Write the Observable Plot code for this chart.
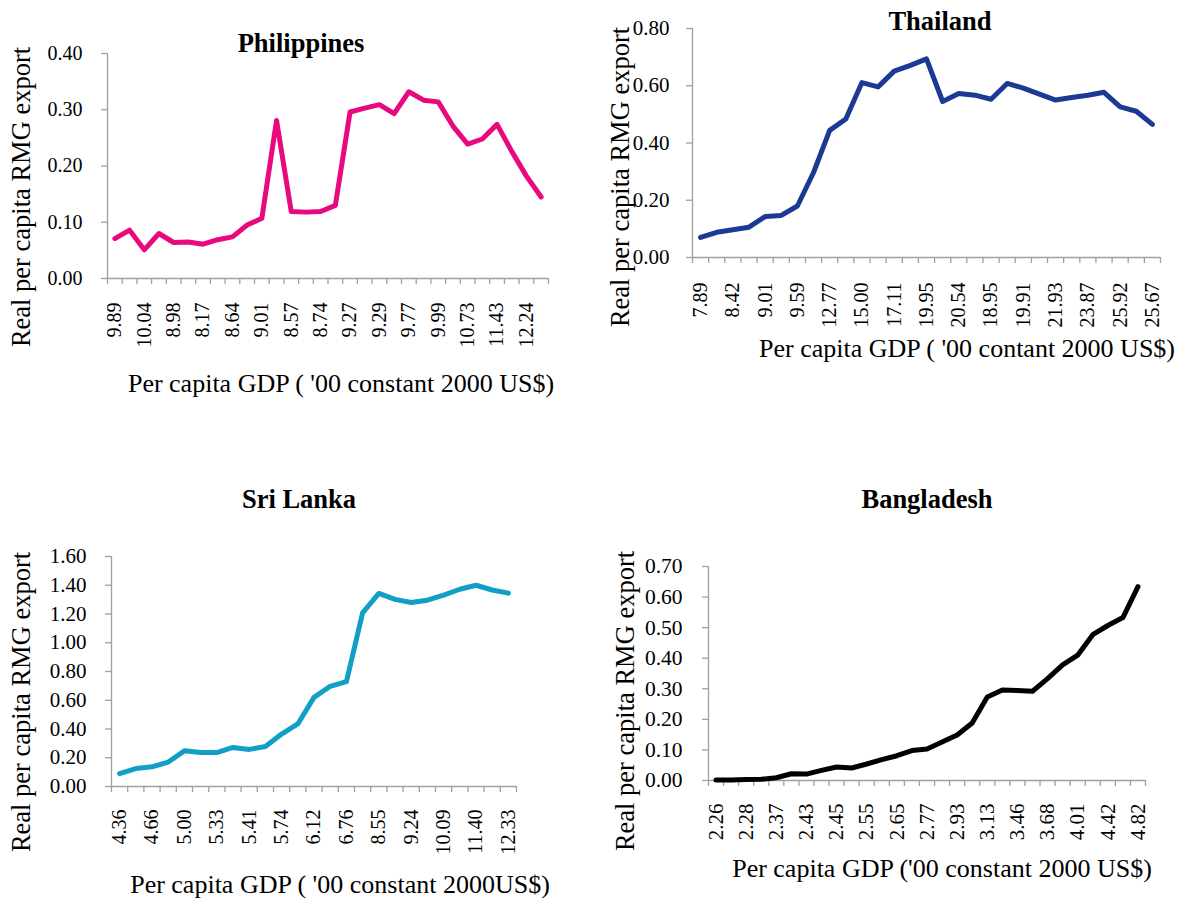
<!DOCTYPE html>
<html><head><meta charset="utf-8">
<script src="https://cdn.jsdelivr.net/npm/d3@7"></script>
<script src="https://cdn.jsdelivr.net/npm/@observablehq/plot@0.6"></script>
<style>
body{margin:0;background:#fff;}
#root{position:relative;width:1182px;height:900px;overflow:hidden;font-family:"Liberation Serif","Times New Roman",serif;}
.panel{position:absolute;}
.panel svg text{font-family:"Liberation Serif","Times New Roman",serif;}
#overlay{position:absolute;left:0;top:0;pointer-events:none;}
</style></head><body><div id="root"></div>
<script>
// ---------- data ----------
const phTickLabels = ["9.89","10.04","8.98","8.17","8.64","9.01","8.57","8.74","9.27","9.29","9.77","9.99","10.73","11.43","12.24"];
const phValues = [0.071,0.086,0.051,0.080,0.064,0.065,0.061,0.069,0.074,0.095,0.107,0.281,0.119,0.118,0.119,0.130,0.296,0.303,0.309,0.293,0.332,0.317,0.314,0.271,0.239,0.248,0.274,0.226,0.182,0.145];
const phYTicks = [0,0.1,0.2,0.3,0.4];

const thTickLabels = ["7.89","8.42","9.01","9.59","12.77","15.00","17.11","19.95","20.54","18.95","19.91","21.93","23.87","25.92","25.67"];
const thValues = [0.070,0.088,0.097,0.106,0.143,0.147,0.180,0.297,0.444,0.484,0.611,0.596,0.651,0.671,0.694,0.545,0.573,0.567,0.553,0.608,0.592,0.571,0.550,0.559,0.567,0.577,0.526,0.511,0.465];
const thYTicks = [0,0.2,0.4,0.6,0.8];

const slTickLabels = ["4.36","4.66","5.00","5.33","5.41","5.74","6.12","6.76","8.55","9.24","10.09","11.40","12.33"];
const slValues = [0.090,0.125,0.137,0.170,0.248,0.237,0.236,0.272,0.258,0.278,0.365,0.435,0.620,0.697,0.729,1.208,1.343,1.302,1.280,1.296,1.331,1.372,1.400,1.367,1.345];
const slYTicks = [0,0.2,0.4,0.6,0.8,1.0,1.2,1.4,1.6];

const bdTickLabels = ["2.26","2.28","2.37","2.43","2.45","2.55","2.65","2.77","2.93","3.13","3.46","3.68","4.01","4.42","4.82"];
const bdValues = [0.002,0.002,0.003,0.004,0.009,0.022,0.021,0.033,0.044,0.041,0.054,0.068,0.081,0.098,0.103,0.126,0.149,0.188,0.273,0.296,0.294,0.292,0.333,0.378,0.410,0.477,0.507,0.533,0.634];
const bdYTicks = [0,0.1,0.2,0.3,0.4,0.5,0.6,0.7];

const yTitle = "Real per capita RMG export";

// ---------- layout ----------
const FONT = '"Liberation Serif","Times New Roman",serif';
const AXIS = "#a0a0a0";
const panels = [
  {name:"Philippines", values:phValues, labels:phTickLabels, yTicks:phYTicks, color:"#e8097e",
   left:0, top:0, w:580, h:400, ml:107, mr:32, mt:53, mb:122, pad:24, fs:20, yfs:20, ypad:19,
   title:{x:301,y:52}, ylab:{x:21,y:197}, xlab:{x:341,y:392, text:"Per capita GDP ( '00 constant 2000 US$)"}},
  {name:"Thailand", values:thValues, labels:thTickLabels, yTicks:thYTicks, color:"#1a3a94",
   left:590, top:0, w:592, h:400, ml:102, mr:22, mt:28, mb:143, pad:25, fs:20, yfs:21, ypad:17,
   title:{x:940,y:30}, ylab:{x:620,y:177}, xlab:{x:967,y:357, text:"Per capita GDP ( '00 contant 2000 US$)"}},
  {name:"Sri Lanka", values:slValues, labels:slTickLabels, yTicks:slYTicks, color:"#119fc6",
   left:0, top:450, w:560, h:450, ml:111, mr:44, mt:106, mb:114, pad:23, fs:20, yfs:21, ypad:19,
   title:{x:299,y:508}, ylab:{x:21,y:702}, xlab:{x:340,y:893, text:"Per capita GDP ( '00 constant 2000US$)"}},
  {name:"Bangladesh", values:bdValues, labels:bdTickLabels, yTicks:bdYTicks, color:"#000000",
   left:590, top:450, w:592, h:450, ml:118, mr:37, mt:116, mb:120, pad:23, fs:21, yfs:21.5, ypad:20,
   title:{x:927,y:508}, ylab:{x:625,y:701}, xlab:{x:942,y:877, text:"Per capita GDP ('00 constant 2000 US$)"}}
];

const root = document.getElementById("root");

for (const p of panels) {
  const n = p.values.length;
  const data = p.values.map((v, i) => ({i, v}));
  const labelPos = p.labels.map((_, k) => 2 * k + 0.5);
  const chart = Plot.plot({
    width: p.w, height: p.h,
    marginLeft: p.ml, marginRight: p.mr, marginTop: p.mt, marginBottom: p.mb,
    style: {fontFamily: FONT, fontSize: p.fs + "px", color: "#000", background: "transparent", overflow: "visible"},
    x: {domain: [0, n], axis: null, label: null},
    y: {domain: [0, p.yTicks[p.yTicks.length - 1]], axis: null, label: null},
    marks: [
      Plot.ruleX([0], {stroke: AXIS, strokeWidth: 1.3}),
      Plot.ruleY([0], {stroke: AXIS, strokeWidth: 1.3}),
      Plot.axisY({ticks: p.yTicks, tickFormat: d3.format(".2f"), tickSize: 6, tickPadding: p.ypad, stroke: AXIS, fill: "#000", strokeWidth: 1.3, fontSize: p.yfs, fontFamily: FONT, label: null}),
      Plot.axisX({ticks: d3.range(n + 1), tickFormat: () => "", tickSize: 6, stroke: AXIS, strokeWidth: 1.3, label: null}),
      Plot.axisX({ticks: labelPos, tickFormat: d => p.labels[(d - 0.5) / 2], tickSize: 0, tickPadding: p.pad, tickRotate: -90, fill: "#000", fontSize: p.fs, fontFamily: FONT, label: null}),
      Plot.line(data, {x: d => d.i + 0.5, y: "v", stroke: p.color, strokeWidth: 5, strokeLinejoin: "round", strokeLinecap: "round"})
    ]
  });
  const div = document.createElement("div");
  div.className = "panel";
  div.style.left = p.left + "px";
  div.style.top = p.top + "px";
  div.appendChild(chart);
  root.appendChild(div);
}

// text overlay: titles and axis titles
const svg = d3.select(root).append("svg").attr("id", "overlay").attr("width", 1182).attr("height", 900)
  .style("font-family", FONT);
for (const p of panels) {
  svg.append("text").attr("x", p.title.x).attr("y", p.title.y).attr("text-anchor", "middle")
    .attr("font-size", 26.5).attr("font-weight", "bold").text(p.name);
  svg.append("text").attr("transform", `translate(${p.ylab.x},${p.ylab.y}) rotate(-90)`)
    .attr("text-anchor", "middle").attr("dy", "0.35em").attr("font-size", 26.5).text(yTitle);
  svg.append("text").attr("x", p.xlab.x).attr("y", p.xlab.y).attr("text-anchor", "middle")
    .attr("font-size", 26).text(p.xlab.text);
}
</script></body></html>
